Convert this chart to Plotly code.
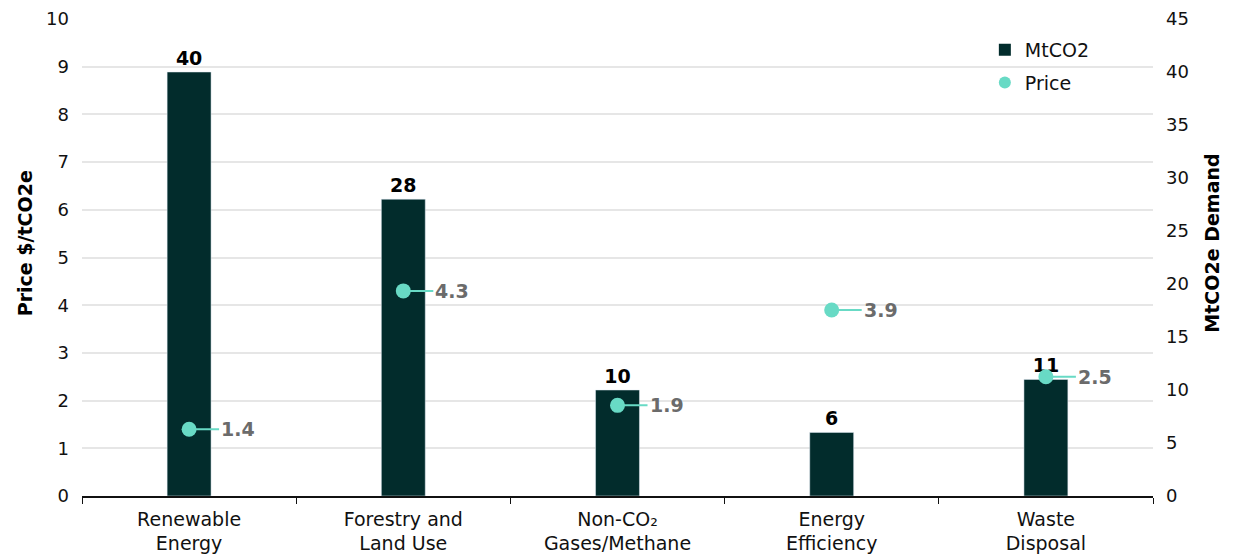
import plotly.graph_objects as go

categories = ["Renewable<br>Energy", "Forestry and<br>Land Use", "Non-CO\u2082<br>Gases/Methane",
              "Energy<br>Efficiency", "Waste<br>Disposal"]
demand = [40, 28, 10, 6, 11]
price = [1.4, 4.3, 1.9, 3.9, 2.5]

FONT = "DejaVu Sans"
BAR = "#022c2c"
DOT = "#68dac5"

fig = go.Figure()
# Bars on primary axis (drawn first, below); price on overlaying axis (drawn above)
fig.add_trace(go.Bar(
    x=categories, y=demand, name="MtCO2", yaxis="y", marker_color=BAR, width=0.205,
    text=[str(v) for v in demand], textposition="outside", cliponaxis=False,
    textfont=dict(family=FONT, size=19, color="#000000", weight="bold"),
    showlegend=False,
))
# legend proxy with a square symbol for the bars
fig.add_trace(go.Scatter(
    x=[None], y=[None], name="MtCO2", mode="markers", yaxis="y",
    marker=dict(color=BAR, size=14, symbol="square"), legendgroup="a",
))
fig.add_trace(go.Scatter(
    x=categories, y=price, name="Price", mode="markers", yaxis="y2",
    marker=dict(color=DOT, size=15), cliponaxis=False, legendgroup="b",
))

for c, p in zip(categories, price):
    fig.add_annotation(
        x=c, y=p, xref="x", yref="y2", text=f"{p}", showarrow=True,
        arrowhead=0, arrowwidth=2, arrowcolor=DOT, ax=30, ay=0,
        xanchor="left", yanchor="middle", standoff=0,
        font=dict(family=FONT, size=19, color="#6b6b6b", weight="bold"),
    )

fig.add_annotation(
    x=-0.0532, y=0.53, xref="paper", yref="paper", text="Price $/tCO2e", showarrow=False,
    textangle=-90, xanchor="center", yanchor="middle",
    font=dict(family=FONT, size=19, color="#000000", weight="bold"),
)
fig.add_annotation(
    x=1.0555, y=0.53, xref="paper", yref="paper", text="MtCO2e Demand", showarrow=False,
    textangle=-90, xanchor="center", yanchor="middle",
    font=dict(family=FONT, size=19, color="#000000", weight="bold"),
)

fig.update_layout(
    width=1236, height=557,
    margin=dict(l=82, r=83, t=19, b=61),
    plot_bgcolor="white", paper_bgcolor="white",
    font=dict(family=FONT, size=18, color="#111111"),
    showlegend=True,
    legend=dict(x=0.843, y=0.975, xanchor="left", yanchor="top",
                font=dict(family=FONT, size=19, color="#111111"),
                bgcolor="rgba(0,0,0,0)", itemsizing="constant", tracegroupgap=5),
    xaxis=dict(
        showline=True, linecolor="#111111", linewidth=1.5, automargin=False,
        ticks="outside", tickson="boundaries", ticklen=6, tickcolor="#111111",
        ticklabelstandoff=5,
        tickfont=dict(family=FONT, size=19, color="#111111"),
        showgrid=False,
    ),
    yaxis=dict(
        range=[0, 45], dtick=5, side="right", showgrid=False, automargin=False,
        zeroline=False, showline=False, ticks="", ticklabelstandoff=12,
        tickfont=dict(family=FONT, size=18, color="#111111"),
    ),
    yaxis2=dict(
        range=[0, 10], dtick=1, overlaying="y", side="left", automargin=False,
        showgrid=True, gridcolor="#e6e6e6", gridwidth=1.5,
        zeroline=False, showline=False, ticks="", ticklabelstandoff=12,
        tickfont=dict(family=FONT, size=18, color="#111111"),
    ),
)

fig.write_html("out.html")
